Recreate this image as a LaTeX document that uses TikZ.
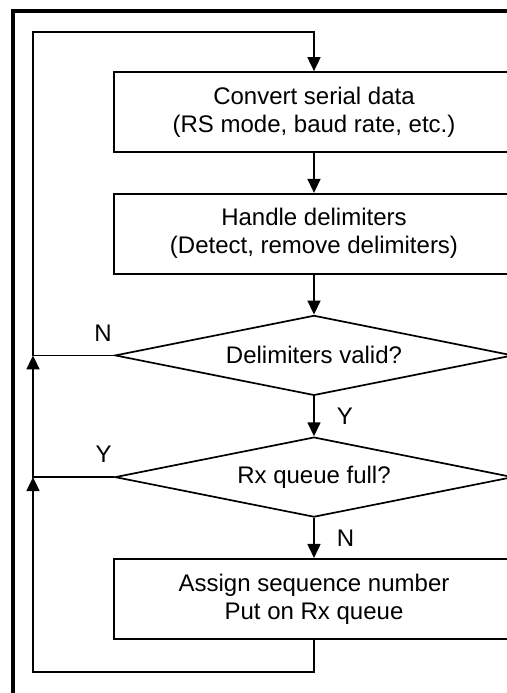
\documentclass[tikz,border=0pt]{standalone}
\usepackage{fontspec}
\setmainfont{Liberation Sans}
\usetikzlibrary{arrows.meta, shapes.geometric, positioning}

\begin{document}
\begin{tikzpicture}[
  x=0.5pt, y=-0.5pt,
  node distance=20pt,
  box/.style={
    draw, line width=0.85pt,
    minimum width=200pt, minimum height=40pt,
    font=\fontsize{12}{14}\selectfont, align=center, inner sep=0pt
  },
  decision/.style={
    diamond, draw, line width=0.85pt, aspect=5,
    minimum width=199pt, minimum height=40pt,
    font=\fontsize{12}{14}\selectfont, inner sep=0pt
  },
  arrow/.style={-{Triangle[length=7pt, width=6.5pt]}, line width=0.85pt},
  lbl/.style={font=\fontsize{12}{14}\selectfont, inner sep=0pt},
]

\useasboundingbox (0,0) rectangle (507,693);
\clip (0,0) rectangle (507,693);

% Frame
\coordinate (framebl) at (13,693);
\coordinate (frametl) at (13,11);
\coordinate (frametr) at (507,11);
\draw[line width=1.6pt] (framebl) -- (frametl) -- (frametr);

% Steps
\node[box] (convert) at (314,112) {Convert serial data\\(RS mode, baud rate, etc.)};
\node[box, below=of convert] (delims) {Handle delimiters\\(Detect, remove delimiters)};
\node[decision, below=of delims] (valid) {Delimiters valid?};
\node[decision, below=of valid] (full) {Rx queue full?};
\node[box, below=of full] (assign) {Assign sequence number\\Put on Rx queue};

% Loop corners
\coordinate (looptop) at (33,32);
\coordinate (loopbot) at (33,672);

% Main flow
\draw[arrow] (convert) -- (delims);
\draw[arrow] (delims) -- (valid);
\draw[arrow] (valid) -- node[lbl, right=11pt] {Y} (full);
\draw[arrow] (full) -- node[lbl, right=11pt] {N} (assign);

% Return paths
\draw[arrow] (assign.south) |- (loopbot) -- (loopbot |- full.west);
\draw[arrow] (full.west) -- (full.west -| loopbot) -- (loopbot |- valid.west);
\draw[arrow] (valid.west) -| (looptop) -| (convert.north);

% Branch labels
\node[lbl, above left=7pt and 1pt of valid.west] (nolbl) {N};
\node[lbl, above left=7pt and 1pt of full.west] (yeslbl) {Y};

\end{tikzpicture}
\end{document}
